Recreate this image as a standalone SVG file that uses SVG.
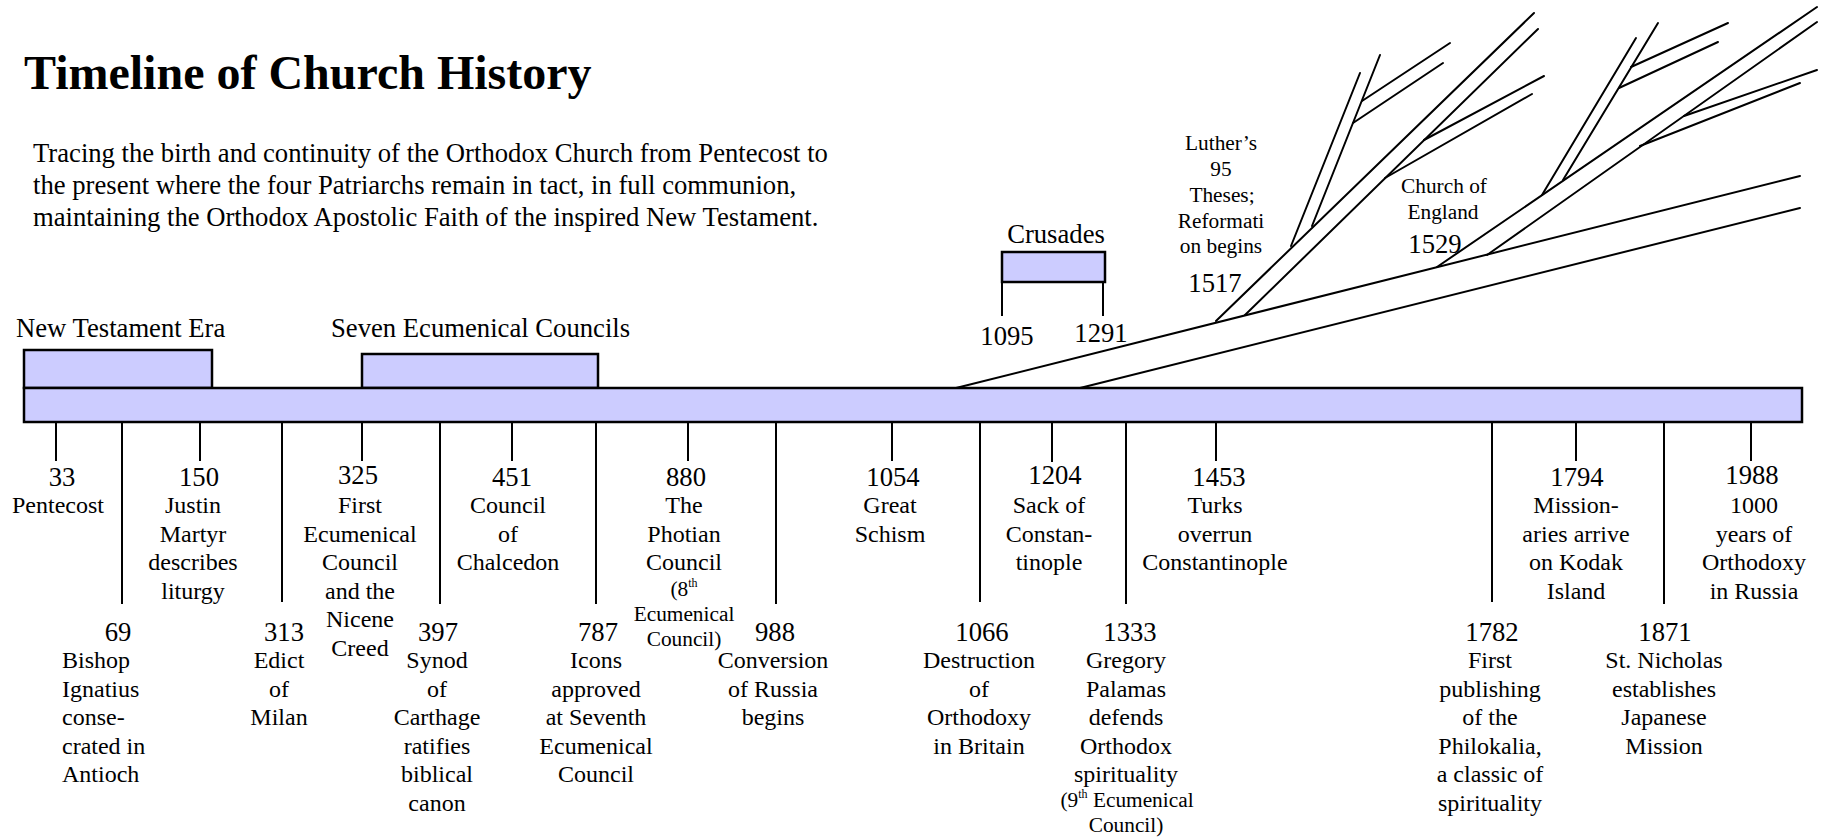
<svg xmlns="http://www.w3.org/2000/svg" width="1822" height="840" viewBox="0 0 1822 840">
<style>
text { font-family: "Liberation Serif", "Times New Roman", serif; fill: #000; }
.ttl { font-size: 48px; font-weight: bold; }
.p { font-size: 26.67px; }
.yr { font-size: 26.67px; text-anchor: middle; }
.hd { font-size: 26.67px; }
.d { font-size: 24px; text-anchor: middle; }
.dl { font-size: 24px; }
.s { font-size: 21.33px; text-anchor: middle; }
.sup { font-size: 12px; }
.box { fill: #CCCCFF; stroke: #000; stroke-width: 2.5; }
.tk { stroke: #000; stroke-width: 2; fill: none; }
.br { stroke: #000; stroke-width: 2; fill: none; stroke-linecap: round; }
</style>
<rect width="1822" height="840" fill="#fff"/>

<g id="title"><text class="ttl" x="24" y="89">Timeline of Church History</text></g>
<g id="intro">
<text class="p" x="33" y="162">Tracing the birth and continuity of the Orthodox Church from Pentecost to</text>
<text class="p" x="33" y="194">the present where the four Patriarchs remain in tact, in full communion,</text>
<text class="p" x="33" y="226">maintaining the Orthodox Apostolic Faith of the inspired New Testament.</text>
</g>

<g id="era-nt">
<rect class="box" x="24" y="350" width="188" height="38"/>
<text class="hd" x="16" y="337">New Testament Era</text>
</g>
<g id="era-councils">
<rect class="box" x="362" y="354" width="236" height="34"/>
<text class="hd" x="331" y="337">Seven Ecumenical Councils</text>
</g>
<g id="era-crusades">
<rect class="box" x="1002" y="252" width="103" height="30"/>
<text class="hd" x="1056" y="243" text-anchor="middle">Crusades</text>
<text class="yr" x="1007" y="345">1095</text>
<text class="yr" x="1101" y="342">1291</text>
</g>

<g id="timeline-bar"><rect class="box" x="24" y="388" width="1778" height="34"/></g>

<g id="connectors">
<!-- crusade ticks -->
<line class="tk" x1="1002" y1="282" x2="1002" y2="316"/>
<line class="tk" x1="1103" y1="282" x2="1103" y2="316"/>
<!-- short ticks -->
<line class="tk" x1="56" y1="422" x2="56" y2="461"/>
<line class="tk" x1="200" y1="422" x2="200" y2="461"/>
<line class="tk" x1="362" y1="422" x2="362" y2="461"/>
<line class="tk" x1="512" y1="422" x2="512" y2="461"/>
<line class="tk" x1="688" y1="422" x2="688" y2="461"/>
<line class="tk" x1="892" y1="422" x2="892" y2="461"/>
<line class="tk" x1="1052" y1="422" x2="1052" y2="462"/>
<line class="tk" x1="1216" y1="422" x2="1216" y2="461"/>
<line class="tk" x1="1576" y1="422" x2="1576" y2="461"/>
<line class="tk" x1="1751" y1="422" x2="1751" y2="461"/>
<!-- long ticks -->
<line class="tk" x1="122" y1="422" x2="122" y2="604"/>
<line class="tk" x1="282" y1="422" x2="282" y2="602"/>
<line class="tk" x1="440" y1="422" x2="440" y2="604"/>
<line class="tk" x1="596" y1="422" x2="596" y2="604"/>
<line class="tk" x1="776" y1="422" x2="776" y2="604"/>
<line class="tk" x1="980" y1="422" x2="980" y2="602"/>
<line class="tk" x1="1126" y1="422" x2="1126" y2="604"/>
<line class="tk" x1="1492" y1="422" x2="1492" y2="602"/>
<line class="tk" x1="1664" y1="422" x2="1664" y2="604"/>
<!-- main branches -->
<line class="br" x1="956" y1="388" x2="1800" y2="176"/>
<line class="br" x1="1080" y1="388" x2="1800" y2="208"/>
<!-- Luther cluster -->
<line class="br" x1="1216" y1="321" x2="1534" y2="13"/>
<line class="br" x1="1245" y1="315" x2="1538" y2="29"/>
<line class="br" x1="1291" y1="246" x2="1360" y2="73"/>
<line class="br" x1="1312" y1="226" x2="1380" y2="55"/>
<line class="br" x1="1362" y1="101" x2="1450" y2="43"/>
<line class="br" x1="1353" y1="123" x2="1443" y2="63"/>
<line class="br" x1="1424" y1="140" x2="1544" y2="76"/>
<line class="br" x1="1385" y1="178" x2="1532" y2="94"/>
<!-- Church of England cluster -->
<line class="br" x1="1437" y1="267" x2="1817" y2="7"/>
<line class="br" x1="1487" y1="255" x2="1817" y2="22"/>
<line class="br" x1="1542" y1="195" x2="1636" y2="38"/>
<line class="br" x1="1563" y1="180" x2="1658" y2="23"/>
<line class="br" x1="1631" y1="67" x2="1728" y2="23"/>
<line class="br" x1="1619" y1="88" x2="1718" y2="42"/>
<line class="br" x1="1684" y1="116" x2="1817" y2="70"/>
<line class="br" x1="1640" y1="146" x2="1800" y2="83"/>
</g>

<g id="luther">
<text class="s" x="1221" y="150">Luther’s</text>
<text class="s" x="1221" y="176">95</text>
<text class="s" x="1222" y="202">Theses;</text>
<text class="s" x="1221" y="227.5">Reformati</text>
<text class="s" x="1221" y="253">on begins</text>
<text class="yr" x="1215" y="292">1517</text>
</g>
<g id="church-of-england">
<text class="s" x="1444" y="193">Church of</text>
<text class="s" x="1443" y="219">England</text>
<text class="yr" x="1435" y="253">1529</text>
</g>

<g id="ev-33"><text class="yr" x="62" y="486">33</text>
<text class="d" x="58" y="513">Pentecost</text></g>
<g id="ev-150"><text class="yr" x="199" y="486">150</text>
<text class="d" x="193"><tspan x="193" y="513">Justin</tspan><tspan x="193" y="541.5">Martyr</tspan><tspan x="193" y="570">describes</tspan><tspan x="193" y="598.5">liturgy</tspan></text></g>
<g id="ev-325"><text class="yr" x="358" y="484">325</text>
<text class="d" x="360"><tspan x="360" y="513">First</tspan><tspan x="360" y="541.5">Ecumenical</tspan><tspan x="360" y="570">Council</tspan><tspan x="360" y="598.5">and the</tspan><tspan x="360" y="627">Nicene</tspan><tspan x="360" y="655.5">Creed</tspan></text></g>
<g id="ev-451"><text class="yr" x="512" y="486">451</text>
<text class="d" x="508"><tspan x="508" y="513">Council</tspan><tspan x="508" y="541.5">of</tspan><tspan x="508" y="570">Chalcedon</tspan></text></g>
<g id="ev-880"><text class="yr" x="686" y="486">880</text>
<text class="d" x="684"><tspan x="684" y="513">The</tspan><tspan x="684" y="541.5">Photian</tspan><tspan x="684" y="570">Council</tspan></text>
<text class="s" x="684" y="596">(8<tspan class="sup" dy="-9">th</tspan></text>
<text class="s" x="684" y="621">Ecumenical</text>
<text class="s" x="684" y="646">Council)</text></g>
<g id="ev-1054"><text class="yr" x="893" y="486">1054</text>
<text class="d" x="890"><tspan x="890" y="513">Great</tspan><tspan x="890" y="541.5">Schism</tspan></text></g>
<g id="ev-1204"><text class="yr" x="1055" y="484">1204</text>
<text class="d" x="1049"><tspan x="1049" y="513">Sack of</tspan><tspan x="1049" y="541.5">Constan-</tspan><tspan x="1049" y="570">tinople</tspan></text></g>
<g id="ev-1453"><text class="yr" x="1219" y="486">1453</text>
<text class="d" x="1215"><tspan x="1215" y="513">Turks</tspan><tspan x="1215" y="541.5">overrun</tspan><tspan x="1215" y="570">Constantinople</tspan></text></g>
<g id="ev-1794"><text class="yr" x="1577" y="486">1794</text>
<text class="d" x="1576"><tspan x="1576" y="513">Mission-</tspan><tspan x="1576" y="541.5">aries arrive</tspan><tspan x="1576" y="570">on Kodak</tspan><tspan x="1576" y="598.5">Island</tspan></text></g>
<g id="ev-1988"><text class="yr" x="1752" y="484">1988</text>
<text class="d" x="1754"><tspan x="1754" y="513">1000</tspan><tspan x="1754" y="541.5">years of</tspan><tspan x="1754" y="570">Orthodoxy</tspan><tspan x="1754" y="598.5">in Russia</tspan></text></g>

<g id="ev-69"><text class="yr" x="118" y="641">69</text>
<text class="dl" x="62"><tspan x="62" y="668">Bishop</tspan><tspan x="62" y="696.5">Ignatius</tspan><tspan x="62" y="725">conse-</tspan><tspan x="62" y="753.5">crated in</tspan><tspan x="62" y="782">Antioch</tspan></text></g>
<g id="ev-313"><text class="yr" x="284" y="641">313</text>
<text class="d" x="279"><tspan x="279" y="668">Edict</tspan><tspan x="279" y="696.5">of</tspan><tspan x="279" y="725">Milan</tspan></text></g>
<g id="ev-397"><text class="yr" x="438" y="641">397</text>
<text class="d" x="437"><tspan x="437" y="668">Synod</tspan><tspan x="437" y="696.5">of</tspan><tspan x="437" y="725">Carthage</tspan><tspan x="437" y="753.5">ratifies</tspan><tspan x="437" y="782">biblical</tspan><tspan x="437" y="810.5">canon</tspan></text></g>
<g id="ev-787"><text class="yr" x="598" y="641">787</text>
<text class="d" x="596"><tspan x="596" y="668">Icons</tspan><tspan x="596" y="696.5">approved</tspan><tspan x="596" y="725">at Seventh</tspan><tspan x="596" y="753.5">Ecumenical</tspan><tspan x="596" y="782">Council</tspan></text></g>
<g id="ev-988"><text class="yr" x="775" y="641">988</text>
<text class="d" x="773"><tspan x="773" y="668">Conversion</tspan><tspan x="773" y="696.5">of Russia</tspan><tspan x="773" y="725">begins</tspan></text></g>
<g id="ev-1066"><text class="yr" x="982" y="641">1066</text>
<text class="d" x="979"><tspan x="979" y="668">Destruction</tspan><tspan x="979" y="696.5">of</tspan><tspan x="979" y="725">Orthodoxy</tspan><tspan x="979" y="753.5">in Britain</tspan></text></g>
<g id="ev-1333"><text class="yr" x="1130" y="641">1333</text>
<text class="d" x="1126"><tspan x="1126" y="668">Gregory</tspan><tspan x="1126" y="696.5">Palamas</tspan><tspan x="1126" y="725">defends</tspan><tspan x="1126" y="753.5">Orthodox</tspan><tspan x="1126" y="782">spirituality</tspan></text>
<text class="s" x="1127" y="807">(9<tspan class="sup" dy="-9">th</tspan><tspan dy="9"> Ecumenical</tspan></text>
<text class="s" x="1126" y="832">Council)</text></g>
<g id="ev-1782"><text class="yr" x="1492" y="641">1782</text>
<text class="d" x="1490"><tspan x="1490" y="668">First</tspan><tspan x="1490" y="696.5">publishing</tspan><tspan x="1490" y="725">of the</tspan><tspan x="1490" y="753.5">Philokalia,</tspan><tspan x="1490" y="782">a classic of</tspan><tspan x="1490" y="810.5">spirituality</tspan></text></g>
<g id="ev-1871"><text class="yr" x="1665" y="641">1871</text>
<text class="d" x="1664"><tspan x="1664" y="668">St. Nicholas</tspan><tspan x="1664" y="696.5">establishes</tspan><tspan x="1664" y="725">Japanese</tspan><tspan x="1664" y="753.5">Mission</tspan></text></g>
</svg>
